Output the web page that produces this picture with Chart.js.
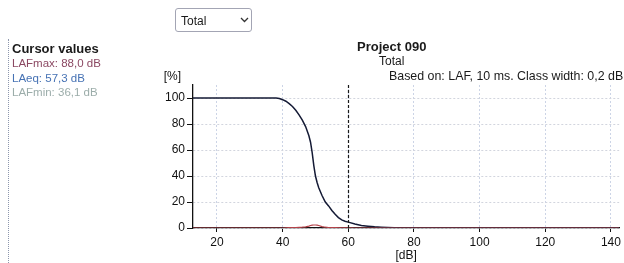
<!DOCTYPE html>
<html>
<head>
<meta charset="utf-8">
<script src="https://cdn.jsdelivr.net/npm/chart.js@4"></script>
<style>
    body { margin: 0; width: 624px; height: 263px; overflow: hidden; background: #fff;
           font-family: "Liberation Sans", Arial, sans-serif; color: #1a1a1a; position: relative; }
    #distChart { position: absolute; left: 0; top: 0; }
    .txt { position: absolute; white-space: nowrap; line-height: 1; }
    .bold { font-weight: bold; font-size: 13px; }
    .cur { font-size: 11.5px; }
    #cursorPanel { position: absolute; left: 8px; top: 39px; height: 224px; border-left: 1px dotted #8d97ad; }
    #classSelect { position: absolute; left: 175px; top: 8px; width: 75px; height: 22px;
                   border: 1px solid #a3a5b4; border-radius: 3px; }
</style>
</head>
<body>
<canvas id="distChart" width="624" height="263"></canvas>

<div id="classSelect">
    <div class="txt" style="left:5px; top:6px; font-size:12px;">Total</div>
    <svg style="position:absolute; left:64px; top:8px;" width="9" height="6">
        <polyline points="1,1 4.5,4.5 8,1" fill="none" stroke="#333" stroke-width="1.3"/>
    </svg>
</div>

<div id="cursorPanel"></div>
<div class="txt bold" style="left:12px; top:42px;">Cursor values</div>
<div class="txt cur" style="left:12px; top:58px; color:#8b4862;">LAFmax: 88,0 dB</div>
<div class="txt cur" style="left:12px; top:73px; color:#4672b4;">LAeq: 57,3 dB</div>
<div class="txt cur" style="left:12px; top:87px; color:#9cadaa;">LAFmin: 36,1 dB</div>

<div class="txt bold" style="left:357px; top:40px;">Project 090</div>
<div class="txt" style="left:379px; top:55px; font-size:12px;">Total</div>
<div class="txt" style="left:389px; top:70px; font-size:12.4px;">Based on: LAF, 10 ms. Class width: 0,2 dB</div>

<script>
// level axis range [dB]
const xMin = 12.7;
const xMax = 142.5;
const cursorDb = 60;

// cumulative distribution (black)
const cumDb  = [12.7, 38, 39, 40, 41, 42, 43, 44, 45, 46, 47, 48, 48.5, 49, 49.5, 50, 50.5, 51, 52, 53, 54, 55, 56, 57, 58, 59, 60, 62, 64, 66, 68, 70, 72, 74, 76, 142.5];
const cumPct = [100, 100, 99.6, 98.7, 97.5, 95.7, 93.5, 90.6, 87, 83, 78, 71, 66, 58, 48, 40, 35, 31, 25, 20, 17, 13.5, 10.5, 8, 6.2, 5.2, 4.5, 3.1, 2, 1.4, 0.9, 0.6, 0.3, 0.1, 0, 0];

// class distribution (red)
const distDb  = [12.7, 40, 41, 42, 43, 44, 45, 46, 47, 48, 48.5, 49, 49.5, 50, 50.5, 51, 52, 53, 54, 55, 56, 58, 60, 62, 142.5];
const distPct = [0, 0, 0.2, 0.3, 0.4, 0.4, 0.5, 0.6, 0.9, 1.5, 1.9, 2.2, 2.3, 2.3, 2.2, 1.9, 1.1, 0.6, 0.4, 0.3, 0.3, 0.2, 0.1, 0, 0];

const yTickStep = 20;
const xTickStep = 20;

const FONT = '"Liberation Sans", Arial, sans-serif';

function toPoints(xs, ys) {
    return xs.map((x, i) => ({ x: x, y: ys[i] }));
}

// dashed cursor line + "[%]" unit label
const cursorPlugin = {
    id: 'cursorLine',
    afterDatasetsDraw(chart) {
        const { ctx, chartArea, scales } = chart;
        const px = Math.round(scales.x.getPixelForValue(cursorDb)) + 0.5;
        ctx.save();
        ctx.strokeStyle = '#1a1a1a';
        ctx.lineWidth = 1.2;
        ctx.setLineDash([3, 2]);
        ctx.beginPath();
        ctx.moveTo(px, chartArea.top);
        ctx.lineTo(px, chartArea.bottom);
        ctx.stroke();
        ctx.setLineDash([]);
        ctx.fillStyle = '#111';
        ctx.font = '12px ' + FONT;
        ctx.textAlign = 'right';
        ctx.textBaseline = 'alphabetic';
        ctx.fillText('[%]', scales.y.right - 12, chartArea.top - 5);
        ctx.restore();
    }
};

new Chart(document.getElementById('distChart'), {
    type: 'line',
    data: {
        datasets: [{
            label: 'Distribution',
            data: toPoints(distDb, distPct),
            borderColor: '#b5434a',
            borderWidth: 1.2,
            pointRadius: 0,
            tension: 0
        }, {
            label: 'Cumulative',
            data: toPoints(cumDb, cumPct),
            borderColor: '#141a35',
            borderWidth: 1.5,
            pointRadius: 0,
            tension: 0
        }]
    },
    options: {
        responsive: false,
        animation: false,
        layout: { padding: { left: 0, top: 85, right: 3, bottom: 0 } },
        plugins: {
            legend: { display: false },
            tooltip: { enabled: false }
        },
        scales: {
            x: {
                type: 'linear',
                min: xMin,
                max: xMax,
                ticks: { stepSize: xTickStep, includeBounds: false, maxRotation: 0, padding: 3,
                         color: '#111', font: { family: FONT, size: 12 } },
                grid: { color: '#ccd4e6', tickColor: '#111', tickLength: 4 },
                border: { color: '#111', width: 1.3, dash: [2, 2] },
                title: { display: true, text: '[dB]', color: '#111',
                         font: { family: FONT, size: 12 }, padding: 0 },
                afterFit(scale) { scale.height = 35; }
            },
            y: {
                min: 0,
                max: 110,
                ticks: { stepSize: yTickStep, includeBounds: false, padding: 2,
                         color: '#111', font: { family: FONT, size: 12 } },
                grid: { color: '#d2d5de', tickColor: '#111', tickLength: 6 },
                border: { color: '#111', width: 1.3, dash: [2, 2] },
                afterFit(scale) { scale.width = 193; }
            }
        }
    },
    plugins: [cursorPlugin]
});
</script>
</body>
</html>
